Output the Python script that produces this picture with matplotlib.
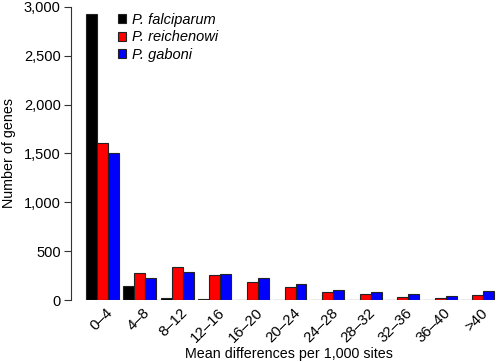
import matplotlib
matplotlib.use('Agg')
import matplotlib.pyplot as plt
import numpy as np

plt.rcParams['font.family'] = ['Liberation Sans', 'DejaVu Sans']

bins = ["0–4", "4–8", "8–12", "12–16", "16–20", "20–24", "24–28",
        "28–32", "32–36", "36–40", ">40"]
falciparum = [2930, 144, 20, 8, 0, 0, 0, 0, 0, 0, 0]
reichenowi = [1610, 274, 340, 258, 190, 133, 80, 63, 36, 22, 56]
gaboni = [1510, 226, 292, 269, 224, 164, 105, 84, 67, 40, 98]

series = [("P. falciparum", falciparum, "#000000"),
          ("P. reichenowi", reichenowi, "#ff0000"),
          ("P. gaboni", gaboni, "#0000ff")]

fig = plt.figure(figsize=(5, 3.62), dpi=100)
ax = fig.add_axes([0.141, 0.171, 0.851, 0.81])

x = np.arange(len(bins))
w = 0.293
for i, (name, vals, col) in enumerate(series):
    ax.bar(x + (i - 1) * w, vals, width=w, color=col, edgecolor="#222222",
           linewidth=0.8, label=name)

ax.hlines(0, x[0] - 1.5 * w, x[-1] + 1.5 * w, color="#555555", linewidth=0.8)

ax.set_xlim(-0.85, 10.49)
ax.set_ylim(0, 3000)
ax.set_yticks([0, 500, 1000, 1500, 2000, 2500, 3000])
ax.set_yticklabels(["0", "500", "1,000", "1,500", "2,000", "2,500", "3,000"])
ax.set_xticks(x + 0.08)
ax.set_xticklabels(bins, rotation=45, ha="right", rotation_mode="anchor")

for s in ["top", "right", "bottom"]:
    ax.spines[s].set_visible(False)
ax.spines["left"].set_bounds(0, 3000)
ax.spines["left"].set_color("#333333")
ax.spines["left"].set_linewidth(0.8)
ax.tick_params(axis="x", length=0, labelsize=10.8, pad=4)
ax.tick_params(axis="y", length=5, width=0.8, color="#333333", labelsize=10.5, pad=2)

fig.text(0.578, 4 / 362, "Mean differences per 1,000 sites", fontsize=10.3,
         ha="center", va="baseline")
ax.set_ylabel("Number of genes", fontsize=10.3, labelpad=6)

leg = ax.legend(loc="upper left", bbox_to_anchor=(0.08, 1.025), frameon=False,
                handlelength=0.6, handleheight=0.6, handletextpad=0.4,
                labelspacing=0.25, prop={"style": "italic", "size": 10.5})

fig.savefig("out.png", dpi=100)
